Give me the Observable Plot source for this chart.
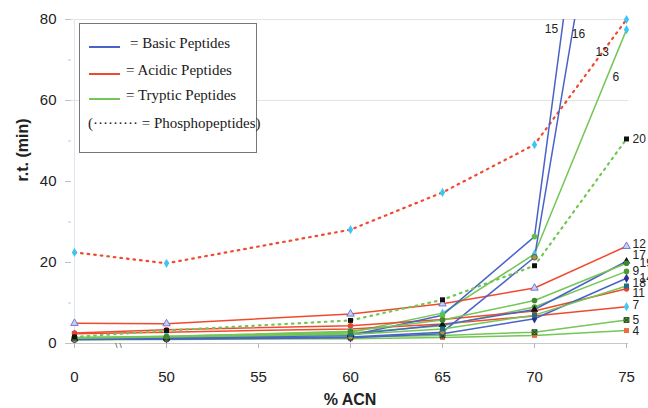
<!DOCTYPE html>
<html>
<head>
<meta charset="utf-8">
<script src="https://cdn.jsdelivr.net/npm/d3@7"></script>
<script src="https://cdn.jsdelivr.net/npm/@observablehq/plot@0.6"></script>
<style>
  body { margin: 0; background: #fff; }
  #wrap { position: relative; width: 648px; height: 408px; }
  #legend {
    position: absolute; left: 79px; top: 23px; width: 176px; height: 128px;
    border: 1.5px solid #777; background: #fff;
    font-family: "Liberation Serif", "Times New Roman", serif; font-size: 15px; color: #1a1a1a;
  }
  #legend .row { position: absolute; white-space: nowrap; }
  #legend .swatch { position: absolute; height: 2px; width: 31px; }
</style>
</head>
<body>
<div id="wrap"></div>
<script>
// % acetonitrile levels on the x axis (55 has no measurement)
const acnLevels = ["0", "50", "55", "60", "65", "70", "75"];
const measuredAcn = ["0", "50", "60", "65", "70", "75"];
const yTicks = [0, 20, 40, 60, 80];
const yMinorTicks = [10, 30, 50, 70];

// retention time (min) of each peptide at 0, 50, 60, 65, 70, 75 % ACN
const rt13 = [22.5, 19.8, 28.1, 37.3, 49.1, 80.0];
const rt15 = [1.3, 1.4, 2.0, 7.0, 26.4, 197];
const rt16 = [1.0, 1.1, 1.6, 2.8, 21.3, 156];
const rt6  = [1.5, 1.8, 2.8, 7.5, 22.1, 77.5];
const rt20 = [1.6, 3.2, 5.7, 10.8, 19.2, 50.5];
const rt12 = [5.0, 4.9, 7.3, 9.8, 13.7, 24.0];
const rt17 = [1.2, 1.3, 2.2, 4.6, 8.4, 20.3];
const rt19 = [1.4, 1.7, 3.0, 5.8, 10.6, 19.8];
const rt9  = [1.2, 1.5, 2.6, 4.4, 9.0, 17.8];
const rt14 = [1.0, 1.1, 1.4, 2.4, 6.1, 16.1];
const rt18 = [1.3, 1.6, 2.2, 3.6, 7.0, 14.2];
const rt11 = [2.6, 3.4, 4.4, 5.9, 8.0, 13.5];
const rt7  = [2.4, 2.8, 3.6, 4.8, 6.8, 9.1];
const rt5  = [1.1, 1.2, 1.6, 2.0, 2.8, 5.8];
const rt4  = [0.9, 1.0, 1.2, 1.5, 2.0, 3.2];

const basicPeptides = ["15", "16", "17", "14"];
const acidicPeptides = ["13", "12", "11", "7"];
const trypticPeptides = ["6", "20", "19", "9", "18", "5", "4"];
const phosphoPeptides = ["13", "20"];

const retention = {
  "13": rt13, "15": rt15, "16": rt16, "6": rt6, "20": rt20, "12": rt12, "17": rt17,
  "19": rt19, "9": rt9, "14": rt14, "18": rt18, "11": rt11, "7": rt7, "5": rt5, "4": rt4
};

// line colour by peptide class
const classColor = {basic: "#4a63c6", acidic: "#f04a2e", tryptic: "#74c657"};
const peptideClass = id =>
  basicPeptides.includes(id) ? "basic" : acidicPeptides.includes(id) ? "acidic" : "tryptic";

// marker per peptide
const markerStyle = {
  "13": {symbol: "diamond", fill: "#3ec6f2", stroke: "none"},
  "15": {symbol: "circle", fill: "#5fbf45", stroke: "none"},
  "16": {symbol: "circle", fill: "#a89a3c", stroke: "#444"},
  "6":  {symbol: "diamond", fill: "#3ec6f2", stroke: "none"},
  "20": {symbol: "square", fill: "#111", stroke: "none"},
  "12": {symbol: "triangle", fill: "#c9cdf4", stroke: "#5561c4"},
  "17": {symbol: "triangle", fill: "#111", stroke: "none"},
  "19": {symbol: "circle", fill: "#3d8a2e", stroke: "none"},
  "9":  {symbol: "circle", fill: "#4c9b34", stroke: "none"},
  "14": {symbol: "diamond", fill: "#2c2f8c", stroke: "none"},
  "18": {symbol: "square", fill: "#1e6f86", stroke: "none"},
  "11": {symbol: "circle", fill: "#e8432c", stroke: "none"},
  "7":  {symbol: "diamond", fill: "#45c8f8", stroke: "none"},
  "5":  {symbol: "square", fill: "#58b848", stroke: "#1a3a10"},
  "4":  {symbol: "square", fill: "#f06a40", stroke: "none"}
};

// peptide number labels: anchor point and offset in pixels
const peptideLabels = [
  {id: "15", at: "70", dx: 17, dy: -207},
  {id: "16", at: "70", dx: 44, dy: -223},
  {id: "13", at: "75", dx: -31, dy: 33},
  {id: "6",  at: "75", dx: -14, dy: 48},
  {id: "20", at: "75", dx: 6, dy: 0},
  {id: "12", at: "75", dx: 6, dy: -2},
  {id: "17", at: "75", dx: 6, dy: -6},
  {id: "19", at: "75", dx: 13, dy: 0},
  {id: "9",  at: "75", dx: 6, dy: 0},
  {id: "14", at: "75", dx: 13, dy: 0},
  {id: "18", at: "75", dx: 6, dy: -3},
  {id: "11", at: "75", dx: 6, dy: 4},
  {id: "7",  at: "75", dx: 6, dy: -1},
  {id: "5",  at: "75", dx: 6, dy: 0},
  {id: "4",  at: "75", dx: 6, dy: 1}
];

const rows = [];
for (const [id, values] of Object.entries(retention)) {
  values.forEach((rt, i) => rows.push({id, acn: measuredAcn[i], rt}));
}
const rowsOf = id => rows.filter(d => d.id === id);
const valueAt = (id, acn) => retention[id][measuredAcn.indexOf(acn)];

const marks = [
  Plot.ruleY([60, 80], {stroke: "#e3e3e3", strokeWidth: 1}),
  Plot.ruleX(["0"], {stroke: "#dbe6f1", strokeWidth: 1}),
  Plot.ruleY([0], {stroke: "#c8c8c8", strokeWidth: 1})
];

// connecting lines
for (const id of Object.keys(retention)) {
  const dotted = phosphoPeptides.includes(id);
  marks.push(Plot.line(rowsOf(id), {
    x: "acn", y: "rt", clip: true,
    stroke: classColor[peptideClass(id)],
    strokeWidth: dotted ? 2.2 : 1.5,
    strokeDasharray: dotted ? "1.6,5" : null,
    strokeLinecap: dotted ? "round" : "butt"
  }));
}

// markers (only those inside the 0–80 min window)
for (const id of Object.keys(retention)) {
  const st = markerStyle[id];
  marks.push(Plot.dot(rowsOf(id).filter(d => d.rt <= 80), {
    x: "acn", y: "rt", symbol: st.symbol, fill: st.fill,
    stroke: st.stroke, strokeWidth: 0.8, r: 2.8
  }));
  if (id === "5") {
    marks.push(Plot.dot(rowsOf(id), {x: "acn", y: "rt", symbol: "times", stroke: "#1a2a10", r: 2.2, strokeWidth: 1}));
  }
}

// peptide numbers (dx/dy are constant-only options, so one text mark per label)
for (const l of peptideLabels) {
  marks.push(Plot.text([l], {
    x: "at", y: d => valueAt(d.id, d.at), text: "id",
    dx: l.dx, dy: l.dy, textAnchor: l.at === "70" ? "middle" : "start",
    fontSize: 12, fill: "#222"
  }));
}

// axis break marks between 0 and 50
marks.push(Plot.text(["\\ \\"], {x: () => "0", y: () => 0, dx: 44, dy: 2, fontSize: 8, fill: "#333"}));

// axes
marks.push(
  Plot.axisX({ticks: acnLevels, tickSize: 5, tickPadding: 23, stroke: "#b8b8b8", fill: "#222", fontSize: 15, label: null}),
  Plot.axisY({ticks: yTicks, tickSize: 6, tickPadding: 9, stroke: "#c0c0c0", fill: "#222", fontSize: 15, label: null}),
  Plot.axisY({ticks: yMinorTicks, tickSize: 3, tickFormat: () => "", stroke: "#c8c8c8", label: null}),
  Plot.text(["r.t. (min)"], {frameAnchor: "left", rotate: -90, dx: -49, fontSize: 16, fontWeight: "bold", fill: "#222"}),
  Plot.text(["% ACN"], {frameAnchor: "bottom", dy: 61, fontSize: 16, fontWeight: "bold", fill: "#222"})
);

const chart = Plot.plot({
  width: 648,
  height: 408,
  marginLeft: 71,
  marginRight: 20,
  marginTop: 19,
  marginBottom: 65,
  style: {fontFamily: "'Liberation Sans', Arial, sans-serif", background: "#fff", overflow: "visible"},
  x: {type: "point", domain: acnLevels, padding: 0},
  y: {domain: [0, 80]},
  marks
});

const wrap = document.getElementById("wrap");
wrap.appendChild(chart);

// legend box
const legend = document.createElement("div");
legend.id = "legend";
const entries = [
  {color: classColor.basic, text: "= Basic Peptides", top: 11, left: 50},
  {color: classColor.acidic, text: "= Acidic Peptides", top: 38, left: 46},
  {color: classColor.tryptic, text: "= Tryptic Peptides", top: 63, left: 46}
];
for (const e of entries) {
  const sw = document.createElement("div");
  sw.className = "swatch";
  sw.style.background = e.color;
  sw.style.left = "9px";
  sw.style.top = (e.top + 11) + "px";
  legend.appendChild(sw);
  const t = document.createElement("div");
  t.className = "row";
  t.style.left = e.left + "px";
  t.style.top = e.top + "px";
  t.textContent = e.text;
  legend.appendChild(t);
}
const ph = document.createElement("div");
ph.className = "row";
ph.style.left = "8px";
ph.style.top = "91px";
ph.textContent = "(\u00b7\u00b7\u00b7\u00b7\u00b7\u00b7\u00b7\u00b7\u00b7 = Phosphopeptides)";
legend.appendChild(ph);
wrap.appendChild(legend);
</script>
</body>
</html>
